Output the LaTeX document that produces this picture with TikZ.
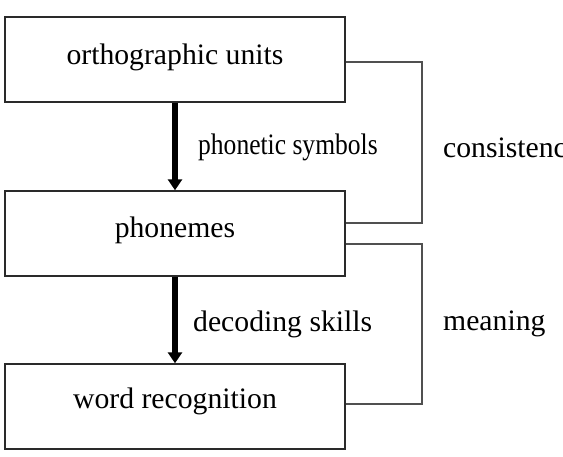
\documentclass[tikz,border=0pt]{standalone}
\usepackage{fontspec}
\setmainfont{Liberation Serif}
\usetikzlibrary{arrows.meta}
\definecolor{boxline}{HTML}{2A2A2A}
\definecolor{linkline}{HTML}{505050}
\tikzset{
  stagebox/.style={draw=boxline, line width=1.4pt, minimum width=340pt, inner sep=0pt,
    text height=48pt, text depth=37pt, font=\fontsize{29.7}{32}\selectfont},
  fatarrow/.style={line width=6.5pt, -{Triangle[width=14pt,length=11pt]}},
  linkwire/.style={draw=linkline, line width=1.1pt},
  caption/.style={anchor=base west, inner sep=0pt, font=\fontsize{29.7}{32}\selectfont}
}
\begin{document}
\begin{tikzpicture}[x=1pt,y=-1pt]
\useasboundingbox (0,0) rectangle (563,457);
\clip (0,0) rectangle (563,457);
\fill[white] (0,0) rectangle (563,457);
\node[stagebox] (b1) at (175,59.5) {orthographic units};
\node[stagebox, text height=47pt, text depth=38pt] (b2) at (175,233.5) {phonemes};
\node[stagebox, text height=45pt, text depth=40pt] (b3) at (175,406.5) {word recognition};
\draw[fatarrow] (b1.south) -- (b2.north);
\draw[fatarrow] (b2.south) -- (b3.north);
\coordinate (c1) at (422,62);
\coordinate (c2) at (422,244);
\draw[linkwire] ([yshift=-2.5pt]b1.east) -- (c1) |- ([yshift=10.5pt]b2.east);
\draw[linkwire] ([yshift=-10.5pt]b2.east) -- (c2) |- ([yshift=2.5pt]b3.east);
\node[caption] (l1) at (198,155) {\scalebox{0.86}[1]{phonetic symbols}};
\node[caption] (l2) at (443,158) {consistenc};
\node[caption] (l3) at (193,332) {decoding skills};
\node[caption] (l4) at (443,331) {meaning};
\end{tikzpicture}
\end{document}
